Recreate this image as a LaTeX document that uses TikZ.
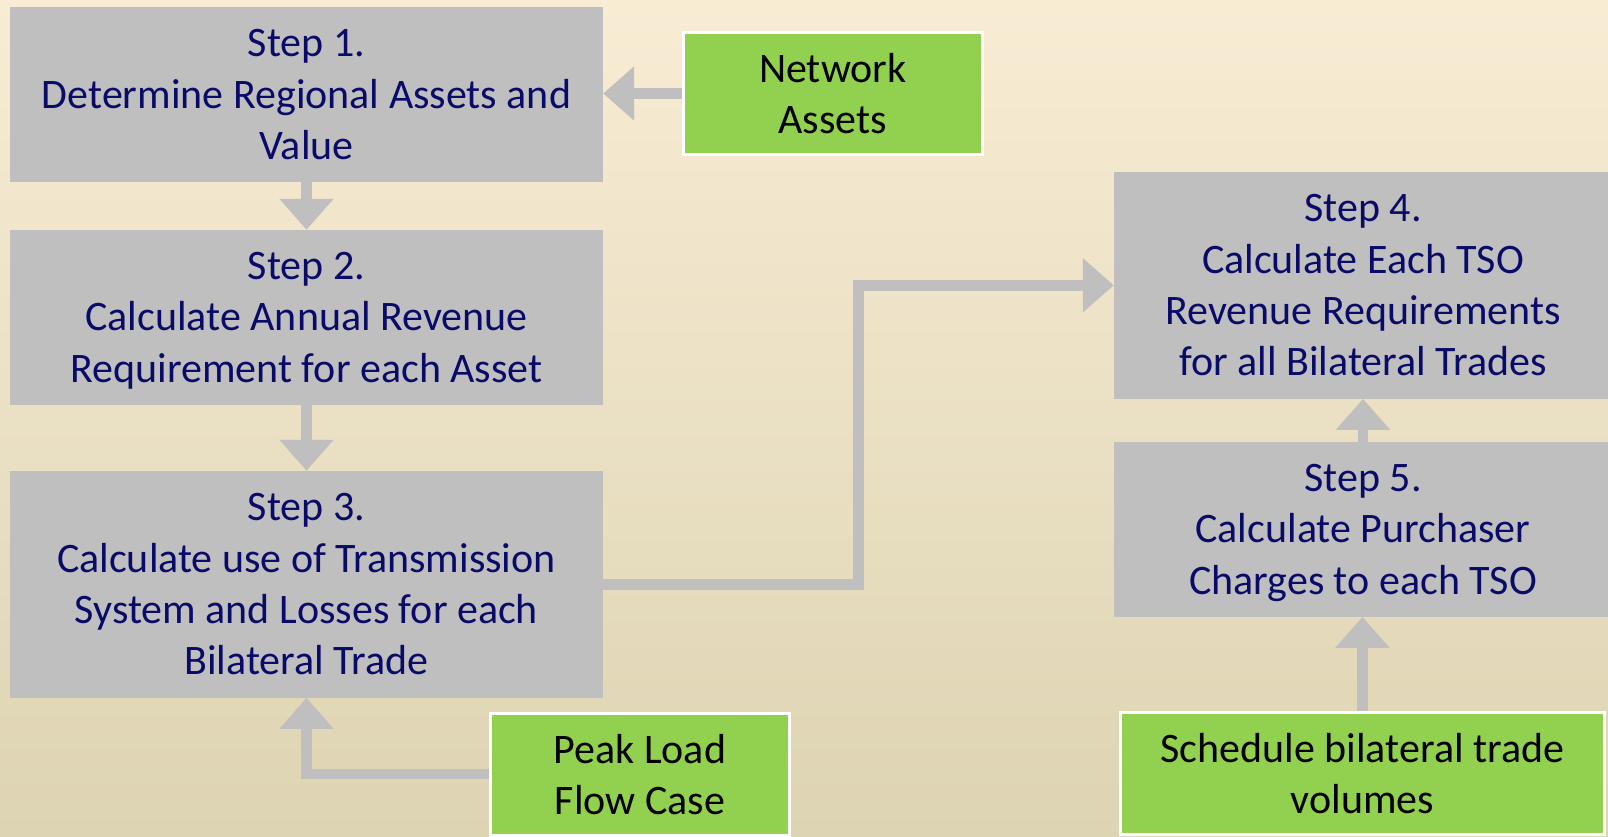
\documentclass[tikz,border=0pt]{standalone}
\usepackage{fontspec}
\setmainfont{Carlito}
\usetikzlibrary{arrows.meta,calc}

\definecolor{bgtop}{RGB}{248,236,212}
\definecolor{bgmid}{RGB}{242,234,213}
\definecolor{bgbot}{RGB}{221,212,179}
\definecolor{stepgrey}{RGB}{191,191,191}
\definecolor{inputgreen}{RGB}{146,208,80}
\definecolor{navytext}{RGB}{10,10,105}

\begin{document}
\begin{tikzpicture}[x=1pt,y=-1pt,
  boxtext/.style={align=center,inner sep=0pt,text depth=0pt,
    font=\fontsize{42}{51.3}\selectfont},
  stepbox/.style={boxtext,fill=stepgrey,text=navytext},
  inputbox/.style={boxtext,fill=inputgreen,draw=white,line width=3pt,text=black},
  conn/.style={draw=stepgrey,line width=10.5pt,
    -{Triangle[width=52.5pt,length=31pt]}}
]
% page and background gradient
\useasboundingbox (0,0) rectangle (1608,836);
\shade[top color=bgtop,middle color=bgmid,bottom color=bgbot] (0,0) rectangle (1608,836);

% box centres
\path
  (306.5,94.5)  coordinate (c1)
  (306.5,317.3) coordinate (c2)
  (306.5,584.3) coordinate (c3)
  (1363,285.3)  coordinate (c4)
  (1363,529.3)  coordinate (c5);

% Step boxes
\node[stepbox,minimum width=593pt,minimum height=175pt] (s1) at (c1)
  {Step 1.\\Determine Regional Assets and\\Value};
\node[stepbox,minimum width=593pt,minimum height=174.7pt] (s2) at (c2)
  {Step 2.\\Calculate Annual Revenue\\Requirement for each Asset};
\node[stepbox,minimum width=593pt,minimum height=226.7pt] (s3) at (c3)
  {Step 3.\\Calculate use of Transmission\\System and Losses for each\\Bilateral Trade};
\node[stepbox,minimum width=498pt,minimum height=226.7pt] (s4) at (c4)
  {Step 4.\\Calculate Each TSO\\Revenue Requirements\\for all Bilateral Trades};
\node[stepbox,minimum width=498pt,minimum height=174.7pt] (s5) at (c5)
  {Step 5.\\Calculate Purchaser\\Charges to each TSO};

% input boxes
\node[inputbox,minimum width=299.3pt,minimum height=122pt] (net) at (832.8,93.5)
  {Network\\Assets};
\node[inputbox,minimum width=298.8pt,minimum height=122pt] (peak) at (639.9,774.2)
  {Peak Load\\Flow Case};
\node[inputbox,minimum width=484.3pt,minimum height=122pt] (sched) at (1362.4,773.5)
  {Schedule bilateral trade\\volumes};

% flow arrows
\draw[conn] (net.west) -- (net.west -| s1.east);
\draw[conn] (s1.south) -- (s2.north);
\draw[conn] (s2.south) -- (s3.north);
\draw[conn] (s3.east) -| ($(s3.east)!.5!(s4.west)$) |- (s4.west);
\draw[conn] (peak.west) -| (s3.south);
\draw[conn] (sched.north) -- (sched.north |- s5.south);
\draw[conn] (s5.north) -- (s4.south);
\end{tikzpicture}
\end{document}
